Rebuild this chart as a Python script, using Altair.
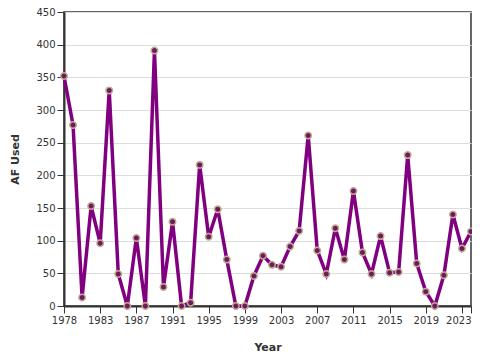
import altair as alt
import pandas as pd

years = list(range(1978, 2024))
af_used = [352, 277, 13, 153, 96, 330, 49, 0, 104, 0,
           391, 29, 129, 0, 5, 216, 106, 148, 71, 0,
           0, 46, 77, 63, 60, 91, 115, 261, 85, 49,
           119, 71, 176, 82, 49, 107, 51, 52, 231, 65,
           22, 0, 47, 140, 88, 114]

tick_values = [1978, 1982, 1986, 1990, 1994, 1998, 2002, 2006, 2010, 2014, 2018, 2022, 2023]
tick_labels = ["1978", "1983", "1987", "1991", "1995", "1999", "2003", "2007", "2011", "2015", "2019", "", "2023"]

df = pd.DataFrame({"Year": years, "AF Used": af_used})

label_expr = "[" + ",".join("'" + s + "'" for s in tick_labels) + "][indexof([" + \
    ",".join(str(v) for v in tick_values) + "], datum.value)]"

x = alt.X("Year:Q",
          scale=alt.Scale(domain=[1978, 2023], nice=False, zero=False),
          axis=alt.Axis(values=tick_values, labelExpr=label_expr, grid=False,
                        title="Year", titlePadding=16, labelOverlap=False,
                        labelFlush=False,
                        labelAlign={"condition": {"test": "datum.value == 2023", "value": "right"},
                                    "value": "center"}))
y = alt.Y("AF Used:Q",
          scale=alt.Scale(domain=[0, 450], nice=False),
          axis=alt.Axis(values=list(range(0, 451, 50)), title="AF Used",
                        titlePadding=15, gridColor="#dddddd", labelFlush=False))

base = alt.Chart(df)
line = base.mark_line(color="#800080", strokeWidth=3.5).encode(x=x, y=y)
pts = base.mark_point(filled=True, size=42, fill="#6a1b62", stroke="#c4ab8c",
                      strokeWidth=1.5, opacity=1).encode(x=x, y=y)

chart = (line + pts).properties(
    width=407, height=294,
    autosize=alt.AutoSizeParams(type="none"),
    padding={"left": 56, "top": 4, "right": 1, "bottom": 46},
).configure_view(
    stroke="#333333", strokeWidth=1.5
).configure_axis(
    domainColor="#333333", domainWidth=2, tickColor="#333333", tickSize=7,
    labelFont="DejaVu Sans", labelFontSize=10, labelColor="#333333",
    titleFont="DejaVu Sans", titleFontSize=11, titleFontWeight="bold", titleColor="#333333",
)

chart.save("out.html", embed_options={"renderer": "svg", "actions": False})
